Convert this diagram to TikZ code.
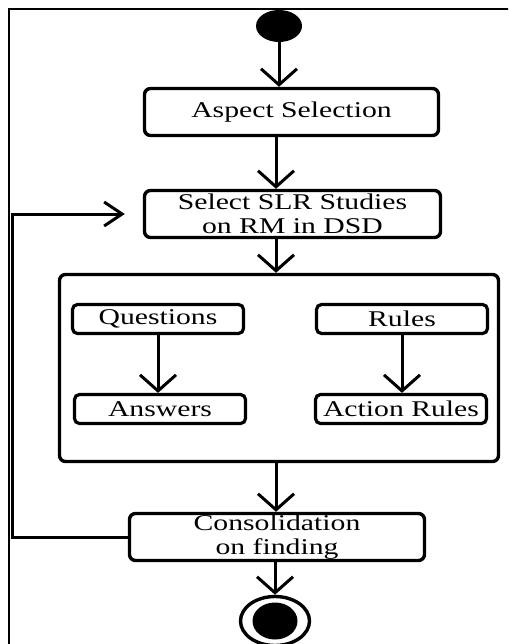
\documentclass[tikz,border=0pt]{standalone}
\usepackage{fontspec}
\setmainfont[FakeStretch=1.32]{Liberation Serif}
\usetikzlibrary{arrows.meta,shapes.geometric,calc}

\begin{document}
\begin{tikzpicture}[x=1pt,y=-1pt,
  lbl/.style={font=\fontsize{22.5}{24}\selectfont},
  act/.style={draw,line width=3.4pt,rounded corners=6pt,minimum width=#1,
    minimum height=47pt,inner sep=0pt,align=center,lbl},
  sub/.style={draw,line width=3.2pt,rounded corners=5pt,minimum width=171pt,
    minimum height=29pt,inner sep=0pt,lbl},
  flow/.style={line width=3pt,-{Straight Barb[length=16pt,width=36pt]}},
  back/.style={line width=3pt,-{Straight Barb[length=18pt,width=24pt]}}]

  \clip (0,0) rectangle (508,644);
  \fill[white] (0,0) rectangle (508,644);

  % outer frame (only its top and left sides lie inside the page)
  \draw[line width=2.6pt] (9,700) -- (9,9) -- (600,9);

  % column of the main flow and of the return path
  \coordinate (axis) at (276,0);
  \coordinate (loop) at (12.5,0);

  % initial node
  \node[ellipse,fill,inner sep=0pt,minimum width=46pt,minimum height=32pt] (start) at (279,26) {};

  % activities
  \node[act=294pt] (aspect) at (291.5,112) {Aspect Selection};
  \node[act=296pt] (slr) at (292.5,214) {Select SLR Studies\\on RM in DSD};

  % grouped activities
  \node[draw,line width=3.4pt,rounded corners=6pt,minimum width=439pt,minimum height=187pt] (group) at (279,368) {};
  \node[sub] (questions) at (158,319) {Questions};
  \node[sub] (rules) at (402,319) {Rules};
  \node[sub] (answers) at (160,409) {Answers};
  \node[sub] (actrules) at (401,409) {Action Rules};

  \node[act=295pt] (cons) at (277,537) {Consolidation\\on finding};

  % final node
  \node[ellipse,draw,line width=3.4pt,inner sep=0pt,minimum width=69pt,minimum height=49pt] (final) at (275,621) {};
  \node[ellipse,fill,inner sep=0pt,minimum width=45pt,minimum height=37pt] (finalcore) at (final) {};

  % control flow
  \draw[flow] (start.south) -- (aspect.north -| start);
  \draw[flow] (aspect.south -| axis) -- (slr.north -| axis);
  \draw[flow] (slr.south -| axis) -- (group.north -| axis);
  \draw[flow] (questions.south) -- (answers.north -| questions);
  \draw[flow] (rules.south) -- (actrules.north -| rules);
  \draw[flow] (group.south -| axis) -- (cons.north -| axis);
  \draw[flow] (cons.south -| final) -- (final.north);

  % iteration back to study selection
  \draw[back,shorten >=18pt] (cons.west) -| (loop |- slr.west) -- (slr.west);
\end{tikzpicture}
\end{document}
